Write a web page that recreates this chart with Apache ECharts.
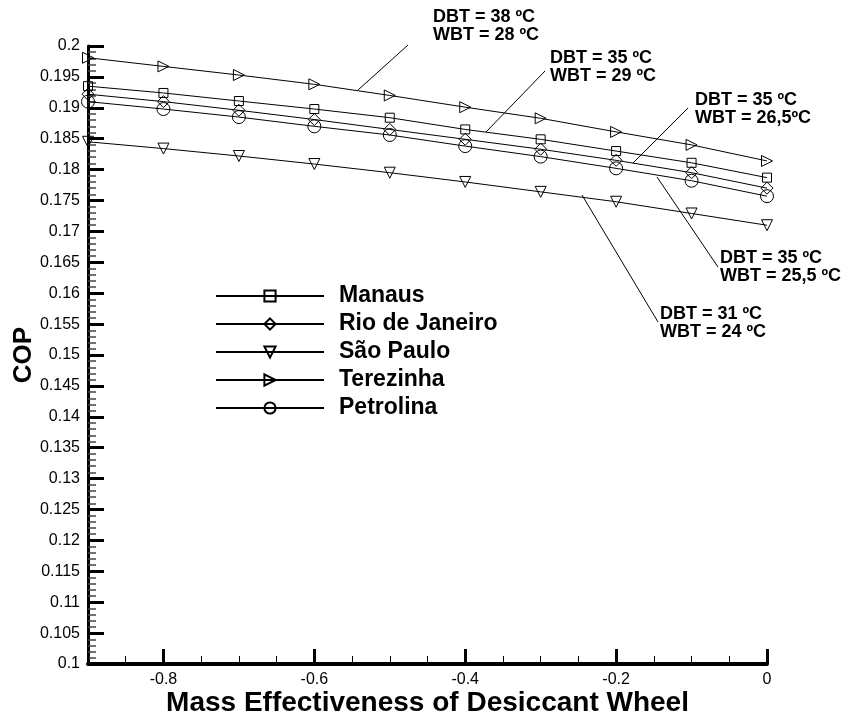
<!DOCTYPE html>
<html>
<head>
<meta charset="utf-8">
<script src="https://cdn.jsdelivr.net/npm/echarts@6/dist/echarts.min.js"></script>
<style>
	html, body { margin: 0; padding: 0; background: #fff; }
	#chartDom { width: 849px; height: 724px; }
</style>
</head>
<body>
<div id="chartDom"></div>
<script>
// mass effectiveness values (x)
var effectiveness = [-0.9, -0.8, -0.7, -0.6, -0.5, -0.4, -0.3, -0.2, -0.1, 0];
var xMajorTicks = [-0.8, -0.6, -0.4, -0.2, 0];

// COP per city
var manaus = [0.1935, 0.1924, 0.1911, 0.1898, 0.1884, 0.1865, 0.1849, 0.1830, 0.1811, 0.1787];
var rioDeJaneiro = [0.1922, 0.1910, 0.1896, 0.1881, 0.1865, 0.1849, 0.1833, 0.1815, 0.1795, 0.1770];
var saoPaulo = [0.1845, 0.1834, 0.1822, 0.1809, 0.1795, 0.1780, 0.1764, 0.1748, 0.1729, 0.1710];
var terezinha = [0.1981, 0.1967, 0.1953, 0.1938, 0.1920, 0.1901, 0.1883, 0.1861, 0.1840, 0.1814];
var petrolina = [0.1910, 0.1898, 0.1885, 0.1870, 0.1856, 0.1838, 0.1821, 0.1802, 0.1782, 0.1757];

var cityNames = ['Manaus', 'Rio de Janeiro', 'São Paulo', 'Terezinha', 'Petrolina'];

// climate notes next to the curves
var notes = [
	'DBT = 38 ºC\nWBT = 28 ºC',
	'DBT = 35 ºC\nWBT = 29 ºC',
	'DBT = 35 ºC\nWBT = 26,5ºC',
	'DBT = 35 ºC\nWBT = 25,5 ºC',
	'DBT = 31 ºC\nWBT = 24 ºC'
];

function pairs(ys) {
	return effectiveness.map(function(x, i) {
		return [x, ys[i]];
	});
}

function citySeries(name, ys, symbol, size, rotate) {
	return {
		name: name,
		type: 'line',
		data: pairs(ys),
		symbol: symbol,
		symbolSize: size,
		symbolRotate: rotate,
		showAllSymbol: true,
		clip: false,
		lineStyle: {
			color: '#000',
			width: 1
		},
		itemStyle: {
			color: 'rgba(255,255,255,0)',
			borderColor: '#000',
			borderWidth: 1
		}
	};
}

var boldFont = '"Liberation Sans", Arial, sans-serif';

// leader lines for the notes (pixel positions)
var noteBoxes = [
	{ x: 433, y: 8, line: [358, 90, 408, 45] },
	{ x: 550, y: 49, line: [486, 132, 545, 71] },
	{ x: 695, y: 91, line: [633, 163, 688, 108] },
	{ x: 720, y: 249, line: [657, 177, 718, 267] },
	{ x: 660, y: 305, line: [582, 195, 658, 322] }
];

var graphics = [];
noteBoxes.forEach(function(b, i) {
	graphics.push({
		type: 'line',
		shape: { x1: b.line[0], y1: b.line[1], x2: b.line[2], y2: b.line[3] },
		style: { stroke: '#000', lineWidth: 1 },
		silent: true
	});
	graphics.push({
		type: 'text',
		x: b.x,
		y: b.y,
		style: {
			text: notes[i],
			fill: '#000',
			font: 'bold 18px ' + boldFont,
			lineHeight: 18
		},
		silent: true
	});
});

var myChart = echarts.init(document.getElementById('chartDom'));
var option = {
	animation: false,
	backgroundColor: '#fff',
	textStyle: {
		fontFamily: boldFont,
		color: '#000'
	},
	grid: {
		left: 88,
		right: 82,
		top: 46,
		bottom: 60,
		containLabel: false,
		outerBoundsMode: 'none'
	},
	legend: {
		orient: 'vertical',
		left: 210,
		top: 279,
		itemWidth: 108,
		itemHeight: 14,
		itemGap: 4,
		data: cityNames,
		textStyle: {
			color: '#000',
			fontSize: 23,
			fontWeight: 'bold',
			lineHeight: 24,
			padding: [0, 0, 0, 10]
		}
	},
	xAxis: [{
		type: 'value',
		min: -0.9,
		max: 0,
		name: 'Mass Effectiveness of Desiccant Wheel',
		nameLocation: 'middle',
		nameGap: 25,
		nameMoveOverlap: false,
		nameTextStyle: {
			fontSize: 28,
			fontWeight: 'bold',
			color: '#000'
		},
		splitLine: { show: false },
		axisLine: {
			onZero: false,
			lineStyle: { color: '#000', width: 4 }
		},
		axisTick: {
			inside: true,
			length: 15,
			customValues: xMajorTicks,
			lineStyle: { color: '#000', width: 3 }
		},
		axisLabel: {
			customValues: xMajorTicks,
			margin: 8,
			fontSize: 16,
			color: '#000'
		}
	}, {
		// minor ticks every 0.05
		type: 'value',
		min: -0.9,
		max: 0,
		interval: 0.05,
		position: 'bottom',
		splitLine: { show: false },
		axisLine: { show: false },
		axisLabel: { show: false },
		axisTick: {
			inside: true,
			length: 8,
			lineStyle: { color: '#000', width: 1 }
		}
	}],
	yAxis: {
		type: 'value',
		min: 0.1,
		max: 0.2,
		interval: 0.005,
		name: 'COP',
		nameLocation: 'middle',
		nameGap: 51,
		nameMoveOverlap: false,
		nameTextStyle: {
			fontSize: 26,
			fontWeight: 'bold',
			color: '#000'
		},
		splitLine: { show: false },
		axisLine: {
			show: true,
			onZero: false,
			lineStyle: { color: '#000', width: 3 }
		},
		axisTick: {
			inside: true,
			length: 16,
			lineStyle: { color: '#000', width: 3 }
		},
		minorTick: {
			show: true,
			splitNumber: 5,
			length: 8,
			lineStyle: { color: '#444', width: 1.5 }
		},
		axisLabel: {
			margin: 8,
			fontSize: 16,
			color: '#000'
		}
	},
	series: [
		citySeries('Manaus', manaus, 'rect', 9, 0),
		citySeries('Rio de Janeiro', rioDeJaneiro, 'diamond', 12, 0),
		citySeries('São Paulo', saoPaulo, 'triangle', 11, 180),
		citySeries('Terezinha', terezinha, 'triangle', 11, -90),
		citySeries('Petrolina', petrolina, 'circle', 13, 0)
	],
	graphic: graphics
};
myChart.setOption(option, true);
</script>
</body>
</html>
